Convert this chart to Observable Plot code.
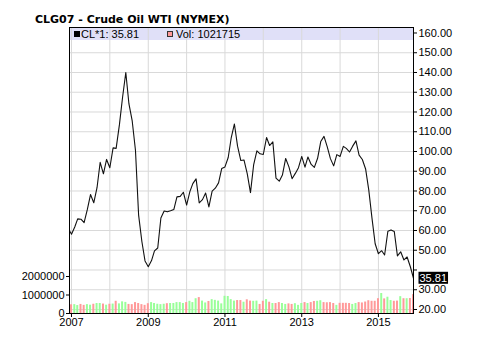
<!DOCTYPE html>
<html>
<head>
<meta charset="utf-8">
<script src="https://cdn.jsdelivr.net/npm/d3@7"></script>
<script src="https://cdn.jsdelivr.net/npm/@observablehq/plot@0.6"></script>
<style>
  body { margin: 0; background: #fff; }
  #wrap { position: relative; width: 484px; height: 340px; overflow: hidden; background: #fff; font-family: "Liberation Sans", Arial, sans-serif; }
  #wrap svg { position: absolute; left: 0; top: 0; }
  #title { position: absolute; left: 35px; top: 13px; font: bold 11px "DejaVu Sans", Verdana, sans-serif; line-height: 13px; color: #000; white-space: nowrap; z-index: 5; }
  #band { position: absolute; left: 70px; top: 28px; width: 343px; height: 11.5px; background: #e0e0f8; z-index: 0; }
  .leg { position: absolute; top: 28px; height: 12px; line-height: 12px; font-size: 11px; color: #000; white-space: nowrap; z-index: 5; }
  .sw { position: absolute; top: 31px; width: 6px; height: 6px; z-index: 5; box-sizing: border-box; }
</style>
</head>
<body>
<div id="wrap">
  <div id="band"></div>
  <div id="title"></div>
  <div class="sw" id="sw1" style="left:74px;background:#000;"></div>
  <div class="leg" id="leg1" style="left:81px;"></div>
  <div class="sw" id="sw2" style="left:167px;background:#ff9999;border:1px solid #333;"></div>
  <div class="leg" id="leg2" style="left:176px;"></div>
</div>
<script>
// ---- data ----
const titleText = "CLG07 - Crude Oil WTI (NYMEX)";
const firstMonth = [2006, 11]; // Dec 2006 (UTC year, month index)
// monthly closes, Dec 2006 .. Dec 2015
const closes = [
  61.05,
  58.14, 61.79, 65.87, 65.71, 64.01, 70.68, 78.21, 74.04, 81.66, 94.53, 88.71, 95.98,
  91.75, 101.84, 101.58, 113.46, 127.35, 140.00, 124.08, 115.46, 100.64, 67.81, 54.43, 44.60,
  41.68, 44.76, 49.66, 51.12, 66.31, 69.89, 69.45, 69.96, 70.61, 77.00, 77.28, 79.36,
  72.89, 79.66, 83.76, 86.15, 73.97, 75.63, 78.95, 71.92, 79.97, 81.43, 84.11, 91.38,
  92.19, 96.97, 106.72, 113.93, 102.70, 95.42, 95.70, 88.81, 79.20, 93.19, 100.36, 98.83,
  98.48, 107.07, 103.02, 104.87, 86.53, 84.96, 88.06, 96.47, 92.19, 86.24, 88.91, 91.82,
  97.49, 92.05, 97.23, 93.46, 91.97, 96.56, 105.03, 107.65, 102.33, 96.38, 92.72, 98.42,
  97.49, 102.59, 101.58, 99.74, 102.71, 105.37, 98.17, 95.96, 91.16, 80.54, 66.15, 53.27,
  48.24, 49.76, 47.60, 59.63, 60.30, 59.47, 47.12, 49.20, 45.09, 46.59, 41.65, 35.81
];
// monthly volume, Jan 2007 .. Dec 2015
const volumes = [
  470000, 480000, 430000, 490000, 440000, 480000, 450000, 500000, 540000, 540000, 510000, 450000,
  500000, 510000, 660000, 520000, 630000, 600000, 490000, 480000, 590000, 540000, 480000, 440000,
  530000, 590000, 540000, 500000, 480000, 500000, 530000, 540000, 540000, 590000, 590000, 540000,
  590000, 660000, 590000, 800000, 860000, 670000, 570000, 650000, 750000, 710000, 670000, 520000,
  930000, 920000, 750000, 670000, 700000, 700000, 610000, 740000, 670000, 660000, 670000, 490000,
  660000, 750000, 610000, 540000, 540000, 590000, 540000, 490000, 520000, 490000, 530000, 440000,
  540000, 590000, 540000, 590000, 650000, 660000, 690000, 590000, 580000, 590000, 540000, 440000,
  550000, 550000, 550000, 540000, 490000, 540000, 590000, 570000, 620000, 690000, 660000, 660000,
  800000, 1080000, 790000, 880000, 700000, 660000, 670000, 910000, 800000, 800000, 810000, 1021715
];
// 1 = up month (green bar), 0 = down month (red bar)
const volUp = [
  0,1,1,0,0,1,1,0,1,1,0,1,
  0,1,0,1,1,1,0,0,0,0,0,0,
  0,1,1,1,1,1,0,1,1,1,1,1,
  0,1,1,1,0,1,1,0,1,1,1,1,
  1,1,1,1,0,0,1,0,0,1,1,0,
  0,1,0,1,0,0,1,1,0,0,1,1,
  1,0,1,0,0,1,1,0,0,0,0,1,
  0,0,0,0,1,1,0,0,0,0,0,0,
  0,1,0,1,1,0,0,1,0,1,0,0
];
const priceTicks = [20, 30, 40, 50, 60, 70, 80, 90, 100, 110, 120, 130, 140, 150, 160];
const priceGrid = [20, 30, 40, 50, 60, 70, 80, 90, 100, 110, 120, 130, 140, 150];
const hiddenPriceLabels = [40];
const volTicks = [0, 1000000, 2000000];
const gridYears = [2007, 2008, 2009, 2010, 2011, 2012, 2013, 2014, 2015];
const labelYears = [2007, 2009, 2011, 2013, 2015];
const xStart = [2006, 11, 13];
const xEnd = [2015, 11, 1];
const priceDomain = [17.97, 162.78];
const volDomain = [0, 15460000];

// ---- tables ----
const months = closes.map((_, i) => new Date(Date.UTC(firstMonth[0], firstMonth[1] + i, 1)));
const priceData = closes.map((c, i) => ({date: months[i], close: c}));
const volData = volumes.map((v, i) => ({date: months[i + 1], vol: v, up: volUp[i]}));
const last = priceData[priceData.length - 1];
const lastVol = volumes[volumes.length - 1];
const yearDates = gridYears.map(y => new Date(Date.UTC(y, 0, 1)));
const labelDates = labelYears.map(y => new Date(Date.UTC(y, 0, 1)));
const xDomain = [new Date(Date.UTC(...xStart)), new Date(Date.UTC(...xEnd))];

const W = 484, H = 340;
const common = {
  width: W, height: H,
  marginLeft: 69, marginRight: 71, marginTop: 27, marginBottom: 27,
  style: {background: "transparent", fontFamily: "'Liberation Sans', Arial, sans-serif", fontSize: "11px", color: "#000", overflow: "visible"}
};
const gridColor = "#d9d9d9";

const price = Plot.plot({
  ...common,
  x: {type: "utc", domain: xDomain, axis: null},
  y: {domain: priceDomain},
  marks: [
    Plot.gridX(yearDates, {stroke: gridColor, strokeOpacity: 1}),
    Plot.gridY(priceGrid, {stroke: gridColor, strokeOpacity: 1}),
    Plot.lineY(priceData, {x: "date", y: "close", stroke: "#111", strokeWidth: 1.1, clip: true}),
    Plot.axisY(priceTicks, {anchor: "right", label: null, tickSize: 3, tickPadding: 2, stroke: "#000",
      tickFormat: d => hiddenPriceLabels.includes(d) ? "" : d.toFixed(2), fontSize: 11}),
    Plot.text([last], {y: "close", frameAnchor: "right", dx: 6, textAnchor: "start",
      text: d => d.close.toFixed(2), fill: "#fff", fontSize: 11})
  ]
});

const vol = Plot.plot({
  ...common,
  x: {type: "utc", domain: xDomain},
  y: {domain: volDomain},
  color: {type: "identity"},
  marks: [
    Plot.rectY(volData, {
      x1: d => d3.utcDay.offset(d.date, -9),
      x2: d => d3.utcDay.offset(d.date, 10),
      y: "vol",
      fill: d => d.up ? "#99ff99" : "#ff9999"
    }),
    Plot.axisY(volTicks, {anchor: "left", label: null, tickSize: 3, tickPadding: 2, stroke: "#000", tickFormat: d => String(d), fontSize: 11}),
    Plot.axisX(labelDates, {anchor: "bottom", label: null, tickSize: 4, tickPadding: 1, stroke: "#000", tickFormat: d3.utcFormat("%Y"), fontSize: 11}),
    Plot.frame({stroke: "#000", strokeWidth: 1})
  ]
});

const wrap = document.getElementById("wrap");
price.style.zIndex = 1;
vol.style.zIndex = 2;
wrap.appendChild(price);
wrap.appendChild(vol);

// black badge behind the last-price label
const texts = price.querySelectorAll('g[aria-label="text"] text');
const t = texts[texts.length - 1];
if (t) {
  const bb = t.getBBox();
  const g = t.parentNode;
  const r = document.createElementNS("http://www.w3.org/2000/svg", "rect");
  r.setAttribute("x", bb.x - 1);
  r.setAttribute("y", bb.y);
  r.setAttribute("width", bb.width + 2);
  r.setAttribute("height", bb.height);
  r.setAttribute("fill", "#000");
  const tr = t.getAttribute("transform");
  if (tr) r.setAttribute("transform", tr);
  g.insertBefore(r, t);
}

document.getElementById("title").textContent = titleText;
document.getElementById("leg1").textContent = "CL*1: " + last.close.toFixed(2);
document.getElementById("leg2").textContent = "Vol: " + lastVol;
</script>
</body>
</html>
